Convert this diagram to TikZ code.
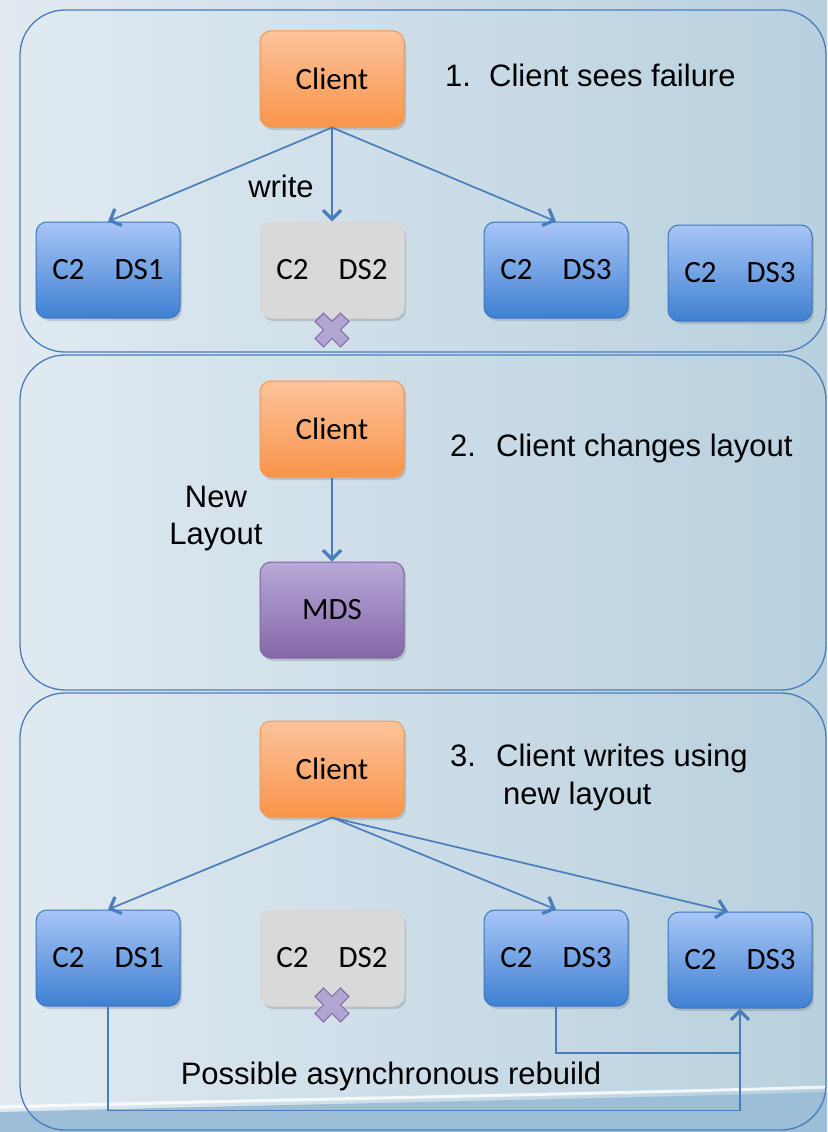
\documentclass[tikz,border=0pt]{standalone}
\usepackage{fontspec}
\setmainfont{Liberation Sans}
\newfontfamily\boxfont{Carlito}
\usetikzlibrary{arrows.meta,shadows,calc}
\definecolor{bgL}{HTML}{E1EAF1}
\definecolor{bgR}{HTML}{B8D0DE}
\definecolor{waveC}{HTML}{9CBED6}
\definecolor{panelc}{HTML}{4A7EBB}
\definecolor{orT}{HTML}{FDC39C}
\definecolor{orB}{HTML}{F9944A}
\definecolor{orD}{HTML}{F79646}
\definecolor{blT}{HTML}{A8C6F6}
\definecolor{blB}{HTML}{3F80D2}
\definecolor{blD}{HTML}{3A76C0}
\definecolor{puT}{HTML}{B7A9D8}
\definecolor{puB}{HTML}{8468A8}
\definecolor{puD}{HTML}{7F63A1}
\definecolor{xF}{HTML}{B3A5D3}
\definecolor{xD}{HTML}{8064A2}
\definecolor{arrc}{HTML}{4A7EBB}
\tikzset{
  panel/.style={draw=panelc, line width=1.3pt, rounded corners=45pt},
  boxbase/.style={rounded corners=11pt, minimum width=144pt, minimum height=96pt,
     line width=1pt, font=\boxfont\fontsize{31}{36}\selectfont, inner sep=0pt,
     drop shadow={shadow xshift=2pt, shadow yshift=-3pt, opacity=0.25, fill=black!60}},
  clientbox/.style={boxbase, draw=orD, top color=orT, bottom color=orB},
  dsbox/.style={boxbase, draw=blD, top color=blT, bottom color=blB},
  deadbox/.style={boxbase, draw=black!15, fill=black!15},
  mdsbox/.style={boxbase, draw=puD, top color=puT, bottom color=puB},
  arr/.style={draw=arrc, line width=1.7pt, -{Straight Barb[length=9pt,width=18pt,line width=3.2pt]}},
  conn/.style={draw=arrc, line width=1.7pt},
  steptext/.style={font=\fontsize{31}{38}\selectfont, anchor=base west, align=left, inner sep=0pt},
  lbl/.style={font=\fontsize{31}{37}\selectfont}
}
\newcommand{\failx}[2]{%
  \begin{scope}[shift={(#1,#2)}, rotate=45]
    \filldraw[fill=xF, draw=xD, line width=1pt]
      (-6,-18)--(6,-18)--(6,-6)--(18,-6)--(18,6)--(6,6)--(6,18)--(-6,18)--(-6,6)--(-18,6)--(-18,-6)--(-6,-6)--cycle;
  \end{scope}}
\newcommand{\ds}[1]{C2\hspace{30pt}#1}
\begin{document}
\begin{tikzpicture}[x=1pt,y=-1pt]
\useasboundingbox (0,0) rectangle (827,1132);
% background
\shade[left color=bgL, right color=bgR] (0,0) rectangle (827,1132);
\fill[waveC] (0,1112) .. controls (300,1104) and (600,1099) .. (827,1092) -- (827,1132) -- (0,1132) -- cycle;
\draw[white, line width=3pt, opacity=0.8] (0,1107) .. controls (300,1099) and (600,1094) .. (827,1087);
% panels
\draw[panel] (20,10) rectangle (826,352);
\draw[panel] (20,355) rectangle (826,690);
\draw[panel] (20,693) rectangle (826,1130);

% ===== panel 1 =====
\node[clientbox] (c1) at (332,79) {Client};
\node[dsbox] (a1) at (108,270) {\ds{DS1}};
\node[deadbox] (b1) at (332,270) {\ds{DS2}};
\node[dsbox] (d1) at (556,270) {\ds{DS3}};
\node[dsbox] (e1) at (740,273) {\ds{DS3}};
\failx{332}{330}
\draw[arr] (c1.south) -- (a1.north);
\draw[arr] (c1.south) -- (b1.north);
\draw[arr] (c1.south) -- (d1.north);
\node[lbl] (w1) at (281,186) {write};
\node[steptext] (s1) at (445,86) {\makebox[44pt][l]{1.}Client sees failure};

% ===== panel 2 =====
\node[clientbox] (c2) at (332,429) {Client};
\node[mdsbox] (m2) at (332,610) {MDS};
\draw[arr] (c2.south) -- (m2.north);
\node[lbl, align=center] (nl) at (216,519) {New\\Layout};
\node[steptext] (s2) at (450,456) {\makebox[46pt][l]{2.}Client changes layout};

% ===== panel 3 =====
\node[clientbox] (c3) at (332,769) {Client};
\node[dsbox] (a3) at (108,958) {\ds{DS1}};
\node[deadbox] (b3) at (332,958) {\ds{DS2}};
\node[dsbox] (d3) at (556,958) {\ds{DS3}};
\node[dsbox] (e3) at (740,960) {\ds{DS3}};
\failx{332}{1005}
\draw[arr] (c3.south) -- (a3.north);
\draw[arr] (c3.south) -- (d3.north);
\draw[arr] (c3.south) -- ($(e3.north)+(-12,0)$);
\node[steptext] (s3) at (450,804) {\makebox[46pt][l]{3.}Client writes using\\\hspace{53pt}new layout};
\coordinate (j) at (740,1053);
\draw[conn] (d3.south) |- (j);
\draw[arr] (a3.south) -- ++(0,104) -| (e3.south);
\node[lbl] (pr) at (391,1076) {Possible asynchronous rebuild};
\end{tikzpicture}
\end{document}
